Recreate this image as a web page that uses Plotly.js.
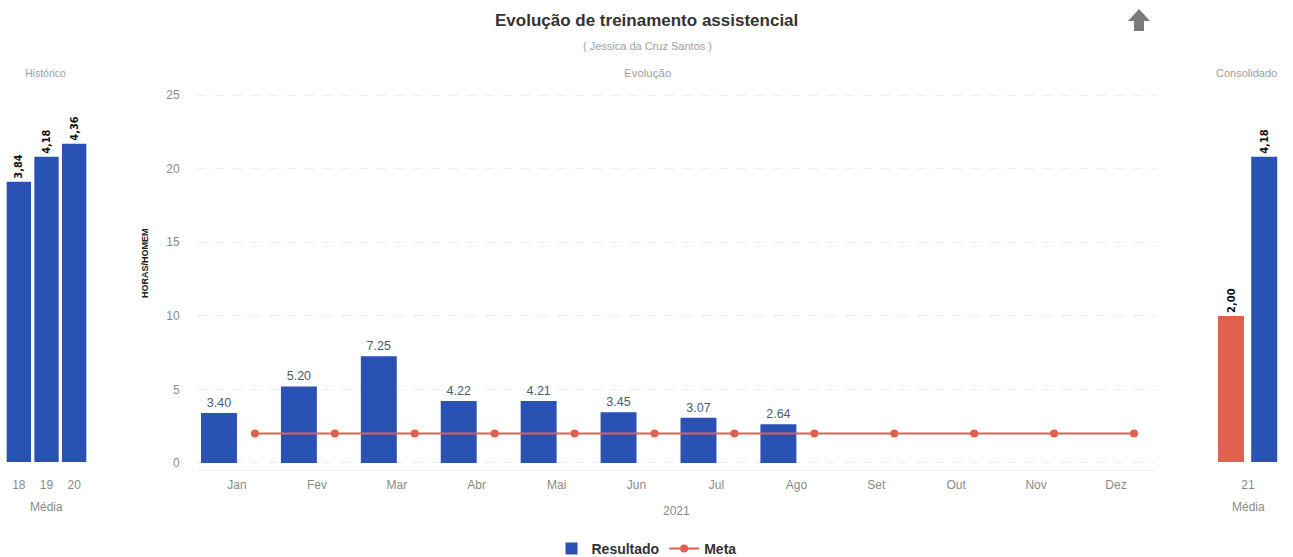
<!DOCTYPE html>
<html>
<head>
<meta charset="utf-8">
<script src="https://cdn.plot.ly/plotly-3.0.1.min.js"></script>
<style>html,body{margin:0;padding:0;background:#fff;}#chart{width:1293px;height:557px;}</style>
</head>
<body>
<div id="chart"></div>
<script>
// ---- data ----
const months = ["Jan","Fev","Mar","Abr","Mai","Jun","Jul","Ago","Set","Out","Nov","Dez"];
const resultado = [3.40, 5.20, 7.25, 4.22, 4.21, 3.45, 3.07, 2.64, null, null, null, null];
const meta = [2, 2, 2, 2, 2, 2, 2, 2, 2, 2, 2, 2];
const histYears = ["18", "19", "20"];
const histValues = [3.84, 4.18, 4.36];
const histLabels = ["3,84", "4,18", "4,36"];
const consYear = ["21"];
const consMeta = [2.00];
const consMetaLabel = ["2,00"];
const consResult = [4.18];
const consResultLabel = ["4,18"];

const BLUE = "#2a52b5";
const RED = "#e0604e";
const W = 1293, H = 557;
const px = v => v / W;
const py = v => 1 - v / H;
const yDom = [py(470), py(90)];

const sideText = {family: "DejaVu Sans", size: 10, color: "#111", weight: "bold"};
const traces = [
  {type: "bar", x: histYears, y: histValues, text: histLabels, textposition: "outside",
   textangle: -90, textfont: sideText,
   marker: {color: BLUE}, width: 0.88, xaxis: "x", yaxis: "y", showlegend: false, cliponaxis: false},
  {type: "bar", name: "Resultado", x: months, y: resultado, offsetgroup: "r",
   texttemplate: "%{y:.2f}", textposition: "outside",
   textfont: {family: "Liberation Sans", size: 12.5, color: "#4d5b70"},
   marker: {color: BLUE}, xaxis: "x2", yaxis: "y2", cliponaxis: false},
  {type: "scatter", mode: "lines+markers", name: "Meta", x: months, y: meta, offsetgroup: "m",
   line: {color: RED, width: 2}, marker: {color: RED, size: 8}, xaxis: "x2", yaxis: "y2"},
  {type: "bar", x: consYear, y: consMeta, text: consMetaLabel, textposition: "outside",
   textangle: -90, textfont: sideText,
   marker: {color: RED}, width: 0.325, offset: -0.375, xaxis: "x3", yaxis: "y3", showlegend: false, cliponaxis: false},
  {type: "bar", x: consYear, y: consResult, text: consResultLabel, textposition: "outside",
   textangle: -90, textfont: sideText,
   marker: {color: BLUE}, width: 0.325, offset: 0.04, xaxis: "x3", yaxis: "y3", showlegend: false, cliponaxis: false}
];

const tickFont = {family: "Liberation Sans", size: 12, color: "#8a8a8a"};
const hidden = "rgba(0,0,0,0)";
function ann(text, x, y, size, color, extra) {
  return Object.assign({text: text, x: px(x), y: py(y), xref: "paper", yref: "paper",
    xanchor: "center", yanchor: "middle", showarrow: false,
    font: {family: "Liberation Sans", size: size, color: color}}, extra || {});
}
const layout = {
  width: W, height: H,
  margin: {l: 0, r: 0, t: 0, b: 0, autoexpand: false},
  paper_bgcolor: "#fff", plot_bgcolor: "#fff",
  barmode: "group", bargap: 0.1, bargroupgap: 0, scattermode: "group",
  font: {family: "Liberation Sans", color: "#555"},
  xaxis: {domain: [px(5), px(88)], type: "category", showgrid: false, zeroline: false, showline: false, automargin: false,
          tickfont: tickFont, ticks: "outside", ticklen: 4, tickcolor: hidden},
  yaxis: {domain: yDom, range: [-0.11, 5.096], showgrid: false, zeroline: false, showticklabels: false, automargin: false},
  xaxis2: {domain: [px(197), px(1156)], type: "category", showgrid: false, zeroline: false, automargin: false,
           showline: true, linecolor: "#eeeeee", tickfont: tickFont, ticks: "outside", ticklen: 4,
           tickcolor: hidden, anchor: "y2"},
  yaxis2: {domain: yDom, range: [-0.476, 25.34], tickvals: [0, 5, 10, 15, 20, 25], showgrid: true, automargin: false,
           gridcolor: "#ececec", griddash: "dash", zeroline: false, tickfont: tickFont,
           ticks: "outside", ticklen: 14, tickcolor: hidden, anchor: "x2"},
  xaxis3: {domain: [px(1208), px(1288)], type: "category", range: [-0.5, 0.5], showgrid: false, zeroline: false, automargin: false,
           tickfont: tickFont, ticks: "outside", ticklen: 4, tickcolor: hidden, anchor: "y3"},
  yaxis3: {domain: yDom, range: [-0.11, 5.096], showgrid: false, zeroline: false, showticklabels: false, automargin: false, anchor: "x3"},
  legend: {orientation: "h", x: 0.5, xanchor: "center", y: py(549), yanchor: "middle",
           font: {family: "Liberation Sans", size: 14, color: "#333", weight: "bold"}},
  shapes: [
    {type: "path", xref: "paper", yref: "paper", line: {width: 0}, fillcolor: "#7b7b7b",
     path: "M " + px(1139) + " " + py(9) + " L " + px(1150) + " " + py(21) + " L " + px(1144) + " " + py(21) +
           " L " + px(1144) + " " + py(31) + " L " + px(1134) + " " + py(31) + " L " + px(1134) + " " + py(21) +
           " L " + px(1128) + " " + py(21) + " Z"}
  ],
  annotations: [
    ann("<b>Evolução de treinamento assistencial</b>", 646, 20, 17, "#333"),
    ann("( Jessica da Cruz Santos )", 647, 46, 11, "#a0a0a0"),
    ann("Evolução", 647, 73, 11.5, "#a0a0a0"),
    ann("Histórico", 45, 73, 10.5, "#a0a0a0"),
    ann("Consolidado", 1246, 73, 11, "#a0a0a0"),
    ann("<b>HORAS/HOMEM</b>", 145, 263, 9, "#222", {textangle: -90}),
    ann("2021", 676, 511, 12, "#8a8a8a"),
    ann("Média", 46, 507, 12, "#8a8a8a"),
    ann("Média", 1248, 507, 12, "#8a8a8a")
  ]
};

Plotly.newPlot("chart", traces, layout, {displayModeBar: false, staticPlot: true});
</script>
</body>
</html>
